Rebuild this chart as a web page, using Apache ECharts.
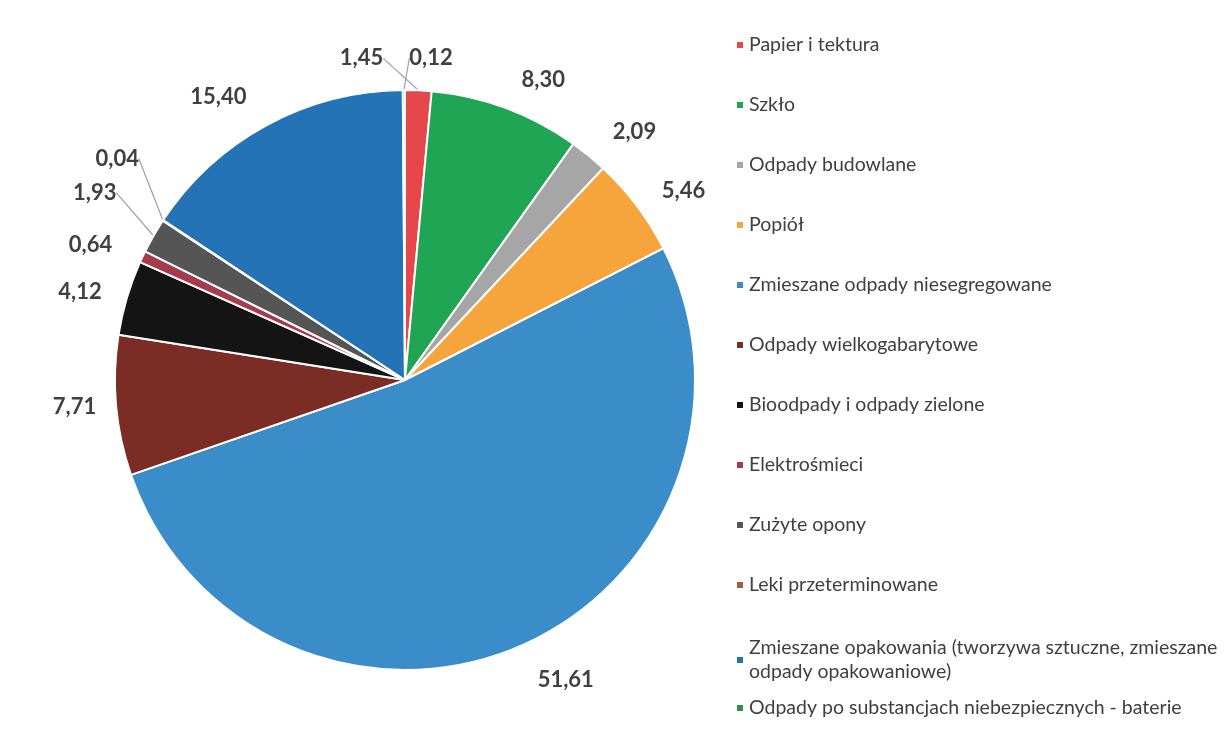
<!DOCTYPE html>
<html>
<head>
<meta charset="utf-8">
<script src="https://cdn.jsdelivr.net/npm/echarts@6/dist/echarts.min.js"></script>
<style>
html,body{margin:0;padding:0;background:#fff;}
#main{width:1227px;height:747px;}
</style>
</head>
<body>
<div id="main"></div>
<script>
const categories = [
  'Papier i tektura',
  'Szkło',
  'Odpady budowlane',
  'Popiół',
  'Zmieszane odpady niesegregowane',
  'Odpady wielkogabarytowe',
  'Bioodpady i odpady zielone',
  'Elektrośmieci',
  'Zużyte opony',
  'Leki przeterminowane',
  'Zmieszane opakowania (tworzywa sztuczne, zmieszane odpady opakowaniowe)',
  'Odpady po substancjach niebezpiecznych - baterie'
];
const values = [1.45, 8.30, 2.09, 5.46, 51.61, 7.71, 4.12, 0.64, 1.93, 0.04, 15.40, 0.12];

// styles (kept separate from data)
const colors = ['#e5474b','#1fa553','#a6a6a6','#f6a53c','#3a8dc8','#7b2c24','#141414','#a63b4b','#555555','#a0603c','#2473b6','#2f8f55'];
const leaderLen = [32, 30, 30, 25, 36, 15, 21, 28, 30, 30, 32, 32];
const leaderShow = [true, false, false, false, false, false, false, false, true, true, false, true];
// label nudges for crowded small slices [dx, dy]
const nudges = {0: [-85, 0], 11: [54, 0], 8: [-6, -28], 9: [6, -45]};

const fmt = v => v.toFixed(2).replace('.', ',');

const data = categories.map((c, i) => ({
  name: c,
  value: values[i],
  itemStyle: { color: colors[i] },
  labelLine: { show: leaderShow[i], length: leaderLen[i], length2: 0 }
}));

const legendText = {
  color: '#404040', fontSize: 19.5, fontFamily: 'Lato', lineHeight: 20
};

const chart = echarts.init(document.getElementById('main'), null, {renderer: 'canvas'});
chart.setOption({
  backgroundColor: '#fff',
  animation: false,
  legend: [
    {
      orient: 'vertical', left: 735, top: 35, padding: 0, itemWidth: 8, itemHeight: 8, itemGap: 40,
      icon: 'rect', textStyle: legendText, data: categories.slice(0, 10)
    },
    {
      orient: 'vertical', left: 735, top: 624, padding: 0, itemWidth: 8, itemHeight: 8,
      icon: 'rect',
      textStyle: Object.assign({}, legendText, {lineHeight: 24, padding: [24, 0, 0, 0]}),
      data: [categories[10]],
      formatter: n => 'Zmieszane opakowania (tworzywa sztuczne, zmieszane\nodpady opakowaniowe)'
    },
    {
      orient: 'vertical', left: 735, top: 698, padding: 0, itemWidth: 8, itemHeight: 8,
      icon: 'rect', textStyle: legendText, data: [categories[11]]
    }
  ],
  series: [{
    type: 'pie',
    center: [405, 380],
    radius: 290,
    startAngle: 90,
    clockwise: true,
    avoidLabelOverlap: false,
    itemStyle: { borderColor: '#fff', borderWidth: 2 },
    label: {
      show: true,
      position: 'outside',
      formatter: p => fmt(p.value),
      fontFamily: 'Lato', fontWeight: 'bold', fontSize: 22, color: '#404040'
    },
    labelLine: { show: true, length: 30, length2: 0, lineStyle: { color: '#a0a0a0', width: 1.2 } },
    labelLayout: function (p) {
      const n = nudges[p.dataIndex];
      if (!n) return {};
      return {
        x: p.labelRect.x + n[0],
        y: p.labelRect.y + p.labelRect.height / 2 + n[1],
        align: 'left',
        verticalAlign: 'middle'
      };
    },
    data: data
  }]
});
</script>
</body>
</html>
